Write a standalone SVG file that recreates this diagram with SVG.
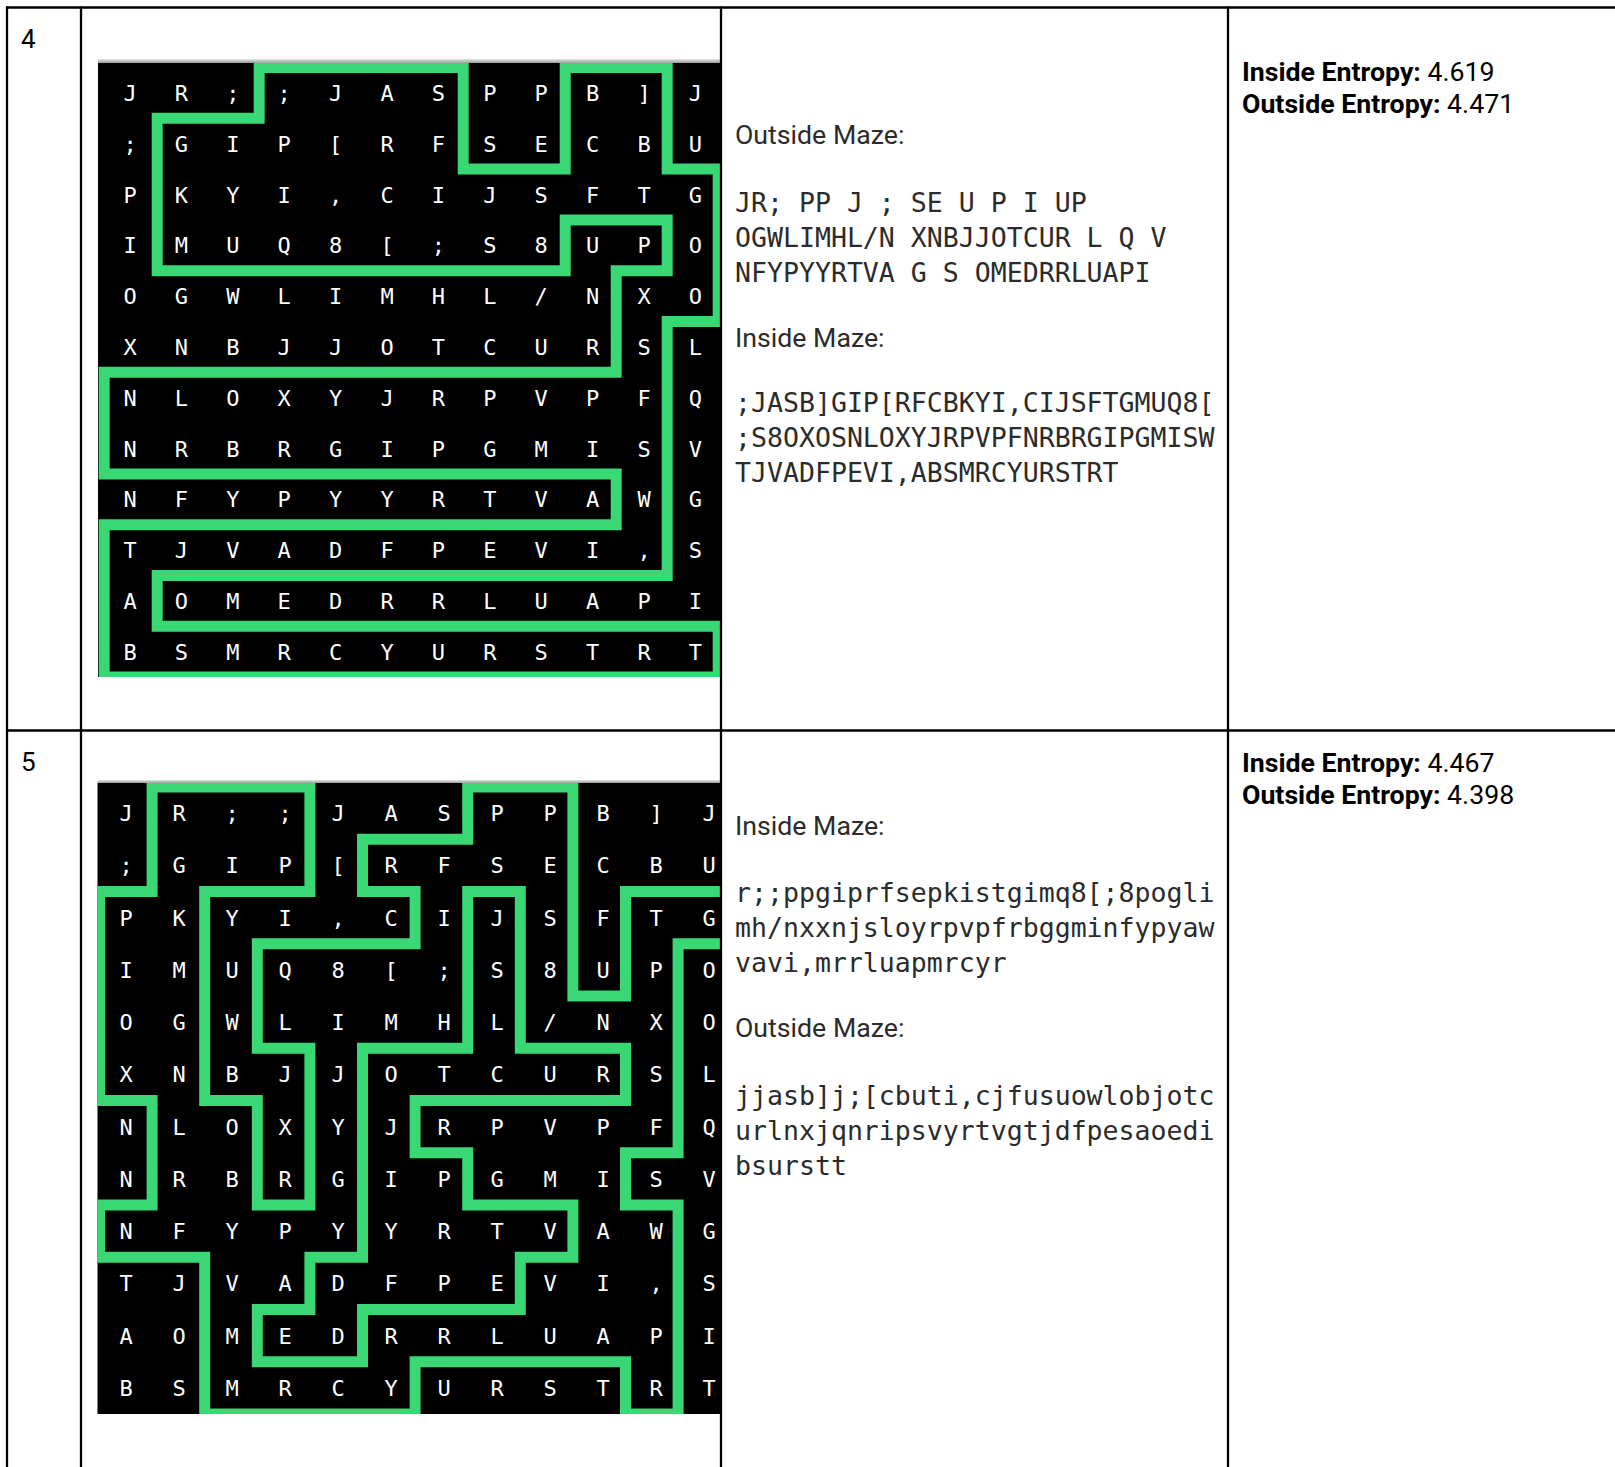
<svg xmlns="http://www.w3.org/2000/svg" width="1615" height="1467" viewBox="0 0 1615 1467">
<defs>
<style>
.grid{stroke:#000;stroke-width:2.3;fill:none}
.lbl{font-family:Roboto,"Liberation Sans",sans-serif;font-size:26.7px;fill:#2b2b2b}
.mono{font-family:"DejaVu Sans Mono","Liberation Mono",monospace;font-size:26.55px;fill:#2b2b2b}
.ent{font-family:Roboto,"Liberation Sans",sans-serif;font-size:26.7px;fill:#000}
.b{font-weight:700}
.num{font-family:Roboto,"Liberation Sans",sans-serif;font-size:26px;fill:#000}
.mz{font-family:"DejaVu Sans Mono",monospace;font-size:22px;fill:#fff;text-anchor:middle}
.wall{fill:none;stroke:#39d874;stroke-width:11;stroke-linejoin:miter;stroke-linecap:square}
</style>
<linearGradient id="gs" x1="0" y1="0" x2="0" y2="1">
<stop offset="0" stop-color="#e6e6e6"/><stop offset="1" stop-color="#9c9c9c"/>
</linearGradient>
<clipPath id="clip1"><rect x="98" y="63" width="623" height="614"/></clipPath>
<clipPath id="clip2"><rect x="97.5" y="783" width="623.5" height="631"/></clipPath>
</defs>
<rect width="1615" height="1467" fill="#fff"/>

<g id="maze4">
<rect x="98" y="59" width="623" height="4" fill="url(#gs)"/>
<rect x="98" y="63" width="623" height="614" fill="#000"/>
<g clip-path="url(#clip1)">
<polygon class="wall" points="259.2,67.5 463.2,67.5 463.2,169.1 565.2,169.1 565.2,67.5 667.2,67.5 667.2,169.1 718.2,169.1 718.2,321.5 667.2,321.5 667.2,575.5 157.2,575.5 157.2,626.3 718.2,626.3 718.2,677.1 104.2,677.1 104.2,524.7 616.2,524.7 616.2,473.9 104.2,473.9 104.2,372.3 616.2,372.3 616.2,270.7 667.2,270.7 667.2,219.9 565.2,219.9 565.2,270.7 157.2,270.7 157.2,118.3 259.2,118.3"/>
</g>
<g class="mz">
<text x="130 181.4 232.8 284.2 335.6 387 438.4 489.8 541.2 592.6 644 695.4" y="100.9">JR;;JASPPB]J</text>
<text x="130 181.4 232.8 284.2 335.6 387 438.4 489.8 541.2 592.6 644 695.4" y="151.7">;GIP[RFSECBU</text>
<text x="130 181.4 232.8 284.2 335.6 387 438.4 489.8 541.2 592.6 644 695.4" y="202.5">PKYI,CIJSFTG</text>
<text x="130 181.4 232.8 284.2 335.6 387 438.4 489.8 541.2 592.6 644 695.4" y="253.3">IMUQ8[;S8UPO</text>
<text x="130 181.4 232.8 284.2 335.6 387 438.4 489.8 541.2 592.6 644 695.4" y="304.1">OGWLIMHL/NXO</text>
<text x="130 181.4 232.8 284.2 335.6 387 438.4 489.8 541.2 592.6 644 695.4" y="354.9">XNBJJOTCURSL</text>
<text x="130 181.4 232.8 284.2 335.6 387 438.4 489.8 541.2 592.6 644 695.4" y="405.7">NLOXYJRPVPFQ</text>
<text x="130 181.4 232.8 284.2 335.6 387 438.4 489.8 541.2 592.6 644 695.4" y="456.5">NRBRGIPGMISV</text>
<text x="130 181.4 232.8 284.2 335.6 387 438.4 489.8 541.2 592.6 644 695.4" y="507.3">NFYPYYRTVAWG</text>
<text x="130 181.4 232.8 284.2 335.6 387 438.4 489.8 541.2 592.6 644 695.4" y="558.1">TJVADFPEVI,S</text>
<text x="130 181.4 232.8 284.2 335.6 387 438.4 489.8 541.2 592.6 644 695.4" y="608.9">AOMEDRRLUAPI</text>
<text x="130 181.4 232.8 284.2 335.6 387 438.4 489.8 541.2 592.6 644 695.4" y="659.7">BSMRCYURSTRT</text>
</g>
</g>

<g id="maze5">
<rect x="97.5" y="780" width="623.5" height="3" fill="url(#gs)"/>
<rect x="97.5" y="783" width="623.5" height="631" fill="#000"/>
<g clip-path="url(#clip2)">
<polyline class="wall" points="730.7,891.5 625.5,891.5 625.5,996 572.9,996 572.9,787 467.7,787 467.7,839.25 362.5,839.25 362.5,891.5 415.1,891.5 415.1,943.75 257.3,943.75 257.3,1048.25 309.9,1048.25 309.9,1205 257.3,1205 257.3,1100.5 204.7,1100.5 204.7,891.5 309.9,891.5 309.9,787 152.1,787 152.1,891.5 99.5,891.5 99.5,1100.5 152.1,1100.5 152.1,1205 99.5,1205 99.5,1257.25 204.7,1257.25 204.7,1414 415.1,1414 415.1,1361.75 625.5,1361.75 625.5,1414 678.1,1414 678.1,1205 625.5,1205 625.5,1152.75 678.1,1152.75 678.1,943.75 730.7,943.75"/>
<polygon class="wall" points="467.7,891.5 520.3,891.5 520.3,1048.25 625.5,1048.25 625.5,1100.5 415.1,1100.5 415.1,1152.75 467.7,1152.75 467.7,1205 572.9,1205 572.9,1257.25 520.3,1257.25 520.3,1309.5 362.5,1309.5 362.5,1361.75 257.3,1361.75 257.3,1309.5 309.9,1309.5 309.9,1257.25 362.5,1257.25 362.5,1048.25 467.7,1048.25"/>
</g>
<g class="mz">
<text x="126 179 232 285 338 391 444 497 550 603 656 709" y="821.1">JR;;JASPPB]J</text>
<text x="126 179 232 285 338 391 444 497 550 603 656 709" y="873.4">;GIP[RFSECBU</text>
<text x="126 179 232 285 338 391 444 497 550 603 656 709" y="925.6">PKYI,CIJSFTG</text>
<text x="126 179 232 285 338 391 444 497 550 603 656 709" y="977.9">IMUQ8[;S8UPO</text>
<text x="126 179 232 285 338 391 444 497 550 603 656 709" y="1030.1">OGWLIMHL/NXO</text>
<text x="126 179 232 285 338 391 444 497 550 603 656 709" y="1082.4">XNBJJOTCURSL</text>
<text x="126 179 232 285 338 391 444 497 550 603 656 709" y="1134.6">NLOXYJRPVPFQ</text>
<text x="126 179 232 285 338 391 444 497 550 603 656 709" y="1186.9">NRBRGIPGMISV</text>
<text x="126 179 232 285 338 391 444 497 550 603 656 709" y="1239.1">NFYPYYRTVAWG</text>
<text x="126 179 232 285 338 391 444 497 550 603 656 709" y="1291.4">TJVADFPEVI,S</text>
<text x="126 179 232 285 338 391 444 497 550 603 656 709" y="1343.6">AOMEDRRLUAPI</text>
<text x="126 179 232 285 338 391 444 497 550 603 656 709" y="1395.9">BSMRCYURSTRT</text>
</g>
</g>

<g id="row4-text">
<text class="num" x="21" y="47.5">4</text>
<text class="lbl" x="735" y="144">Outside Maze:</text>
<text class="mono" x="735" y="211.5">JR; PP J ; SE U P I UP</text>
<text class="mono" x="735" y="246.5">OGWLIMHL/N XNBJJOTCUR L Q V</text>
<text class="mono" x="735" y="281.5">NFYPYYRTVA G S OMEDRRLUAPI</text>
<text class="lbl" x="735" y="346.5">Inside Maze:</text>
<text class="mono" x="735" y="412">;JASB]GIP[RFCBKYI,CIJSFTGMUQ8[</text>
<text class="mono" x="735" y="447">;S8OXOSNLOXYJRPVPFNRBRGIPGMISW</text>
<text class="mono" x="735" y="482">TJVADFPEVI,ABSMRCYURSTRT</text>
<text class="ent" x="1242" y="80.5"><tspan class="b">Inside Entropy:</tspan> 4.619</text>
<text class="ent" x="1242" y="112.5"><tspan class="b">Outside Entropy:</tspan> 4.471</text>
</g>

<g id="row5-text">
<text class="num" x="21" y="771">5</text>
<text class="lbl" x="735" y="835">Inside Maze:</text>
<text class="mono" x="735" y="902">r;;ppgiprfsepkistgimq8[;8pogli</text>
<text class="mono" x="735" y="937">mh/nxxnjsloyrpvpfrbggminfypyaw</text>
<text class="mono" x="735" y="972">vavi,mrrluapmrcyr</text>
<text class="lbl" x="735" y="1037">Outside Maze:</text>
<text class="mono" x="735" y="1105">jjasb]j;[cbuti,cjfusuowlobjotc</text>
<text class="mono" x="735" y="1140">urlnxjqnripsvyrtvgtjdfpesaoedi</text>
<text class="mono" x="735" y="1175">bsurstt</text>
<text class="ent" x="1242" y="771.5"><tspan class="b">Inside Entropy:</tspan> 4.467</text>
<text class="ent" x="1242" y="803.5"><tspan class="b">Outside Entropy:</tspan> 4.398</text>
</g>

<g id="table-lines" class="grid">
<line x1="6" y1="7.5" x2="1615" y2="7.5"/>
<line x1="6" y1="730.5" x2="1615" y2="730.5"/>
<line x1="7" y1="6.5" x2="7" y2="1467"/>
<line x1="81" y1="6.5" x2="81" y2="1467"/>
<line x1="721" y1="6.5" x2="721" y2="1467"/>
<line x1="1228" y1="6.5" x2="1228" y2="1467"/>
</g>
</svg>
